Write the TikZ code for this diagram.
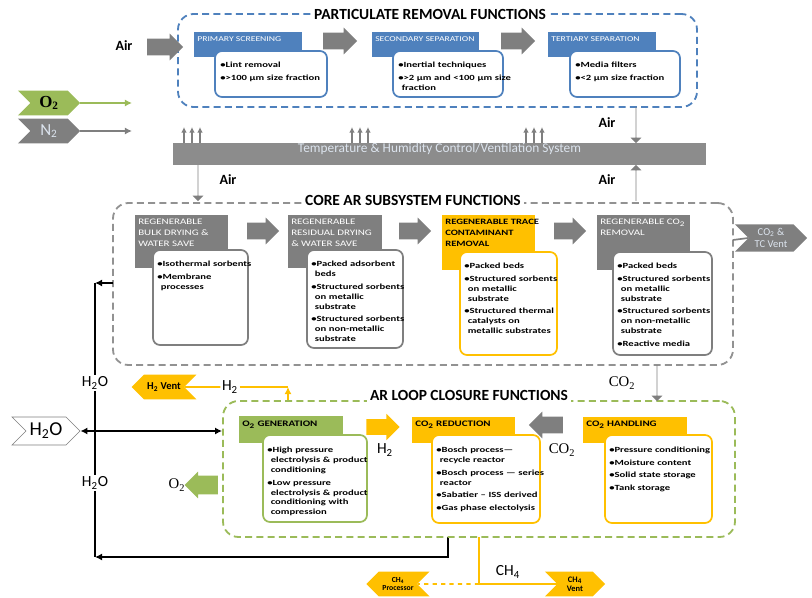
\documentclass[tikz,border=0pt]{standalone}
\usepackage{fontspec}
\setmainfont{Carlito}
\newfontfamily\serifl{Liberation Serif}
\newfontfamily\widefont[FakeStretch=1.3]{Carlito}
\newfontfamily\bulfont[FakeStretch=1.35]{Carlito}
\usetikzlibrary{shapes.arrows,shapes.symbols,fit,arrows.meta}
\definecolor{ablue}{HTML}{4F81BD}
\definecolor{agray}{HTML}{7F7F7F}
\definecolor{ayel}{HTML}{FFC000}
\definecolor{agrn}{HTML}{9BBB59}
\definecolor{alight}{HTML}{DCE4EE}
\newcommand{\itm}[1]{\par\hangindent=0.45em\hangafter=1\noindent\textbullet#1\par\vspace{2pt}}
\tikzset{
  fnframe/.style={draw, dash pattern=on 5pt off 3pt, line width=1.3pt, rounded corners=11pt, inner sep=0pt},
  frtitle/.style={fill=white, inner sep=2pt, font=\fontsize{11}{12}\selectfont\bfseries},
  hdr/.style={inner sep=0pt},
  htxt/.style={anchor=north west, inner sep=0pt, align=left, font=\widefont\fontsize{6}{7.6}\selectfont},
  bbox/.style={draw, fill=white, rounded corners=5pt, line width=1.2pt, inner sep=0pt},
  btxt/.style={anchor=north west, inner sep=0pt, align=left, text width=3.2cm, font=\bulfont\fontsize{5.6}{7.1}\selectfont\bfseries},
  barr/.style={single arrow, fill=agray, inner xsep=0pt, inner ysep=0.2cm, single arrow head extend=0.13cm, single arrow head indent=0pt, minimum height=0.85cm},
  gastag/.style={signal, inner sep=0pt, minimum height=0.62cm, align=center},
  lbl/.style={font=\serifl\fontsize{10.5}{12}\selectfont, inner sep=1pt},
  wlbl/.style={font=\fontsize{11}{12}\selectfont, inner sep=1pt},
  air/.style={font=\fontsize{10}{12}\selectfont\bfseries, inner sep=1pt},
  flowline/.style={line width=1.2pt, -{Latex[length=5pt,width=5pt]}},
}

\begin{document}
\begin{tikzpicture}[x=0.025cm, y=-0.025cm]
  \useasboundingbox (0,0) rectangle (812,598);

  % particulate removal
  \node[fnframe, draw=ablue, fit={(178,14) (697,107)}] (prf) {};
  \node[frtitle] (prft) at (430,14) {PARTICULATE REMOVAL FUNCTIONS};

  \node[hdr, fill=ablue, fit={(194,32) (302,57)}] (ps) {};
  \node[htxt, text=white, font=\widefont\fontsize{5.3}{7}\selectfont] (pst) at (197,36) {PRIMARY SCREENING};
  \node[bbox, draw=ablue, fit={(215,51) (327,97)}] (psb) {};
  \node[btxt] (psbt) at (220,57) {\itm{Lint removal}\itm{>100 µm size fraction}};

  \node[hdr, fill=ablue, fit={(372,32) (479,57)}] (ss) {};
  \node[htxt, text=white, font=\widefont\fontsize{5.3}{7}\selectfont] (sst) at (375,36) {SECONDARY SEPARATION};
  \node[bbox, draw=ablue, fit={(393,51) (503,97)}] (ssb) {};
  \node[btxt] (ssbt) at (398,57) {\itm{Inertial techniques}\itm{>2 µm and <100 µm size\newline fraction}};

  \node[hdr, fill=ablue, fit={(548,32) (656,57)}] (ts) {};
  \node[htxt, text=white, font=\widefont\fontsize{5.3}{7}\selectfont] (tst) at (551,36) {TERTIARY SEPARATION};
  \node[bbox, draw=ablue, fit={(570,51) (680,97)}] (tsb) {};
  \node[btxt] (tsbt) at (575,57) {\itm{Media filters}\itm{<2 µm size fraction}};

  \node[barr] (pa1) at (336,41) {};
  \node[barr] (pa2) at (514,41) {};

  \node[air] (airin) at (124,46) {Air};
  \node[barr, minimum height=0.9cm] (aira) at (161,47) {};

  % o2 / n2 in
  \node[gastag, fill=agrn, minimum width=1.55cm, signal to=east, signal from=west,
    font=\serifl\fontsize{12}{12}\selectfont\bfseries] (o2t) at (49,103) {O\textsubscript{2}};
  \node[gastag, fill=agray, minimum width=1.55cm, signal to=east, signal from=west,
    text=alight, font=\fontsize{12}{12}\selectfont] (n2t) at (49,131) {N\textsubscript{2}};
  \coordinate (o2e) at (132,103);
  \coordinate (n2e) at (132,131);
  \draw[agrn, line width=1.2pt, -{Latex[length=5pt,width=5pt]}] (o2t.east) -- (o2e);
  \draw[agray, line width=1.2pt, -{Latex[length=5pt,width=5pt]}] (n2t.east) -- (n2e);

  % thc bar
  \node[fill=agray!90, inner sep=0pt, fit={(173,143) (706,165)}, text=alight,
    font=\fontsize{9.5}{10}\selectfont] (bar) {Temperature \& Humidity Control/Ventilation System};
  \foreach \x in {184,192,200,352,360,368,526,534,542}
    \draw[agray, line width=1.1pt, -{Latex[length=4pt,width=4pt]}] (\x,143) -- (\x,127);

  \node[barr, shape border rotate=270, minimum height=0.9cm] (aird1) at (636,125) {};
  \node[air] (air1) at (607,123) {Air};
  \node[barr, shape border rotate=90, minimum height=0.9cm] (airu) at (636,183) {};
  \node[air] (air2) at (607,180) {Air};
  \node[barr, shape border rotate=270, minimum height=0.9cm] (aird2) at (198,183) {};
  \node[air] (air3) at (228,180) {Air};

  % core ar
  \node[fnframe, draw=agray!85, fit={(113,203) (733,365)}] (core) {};
  \node[frtitle] (coret) at (413,200) {CORE AR SUBSYSTEM FUNCTIONS};

  \node[hdr, fill=agray, fit={(135,215) (228,268)}] (c1) {};
  \node[htxt, text=white] (c1t) at (138,219) {REGENERABLE\\BULK DRYING \&\\WATER SAVE};
  \node[bbox, draw=agray, fit={(153,250) (248,345)}] (c1b) {};
  \node[btxt] (c1bt) at (157,256) {\itm{Isothermal sorbents}\itm{Membrane\newline processes}};

  \node[hdr, fill=agray, fit={(288,215) (382,268)}] (c2) {};
  \node[htxt, text=white] (c2t) at (291,219) {REGENERABLE\\RESIDUAL DRYING\\\& WATER SAVE};
  \node[bbox, draw=agray, fit={(307,250) (403,348)}] (c2b) {};
  \node[btxt] (c2bt) at (311,256) {\itm{Packed adsorbent\newline beds}\itm{Structured sorbents\newline on metallic\newline substrate}\itm{Structured sorbents\newline on non-metallic\newline substrate}};

  \node[hdr, fill=ayel, fit={(442,215) (535,270)}] (c3) {};
  \node[htxt, font=\widefont\fontsize{5.8}{7.6}\selectfont\bfseries] (c3t) at (445,219) {REGENERABLE TRACE\\CONTAMINANT\\REMOVAL};
  \node[bbox, draw=ayel, fit={(460,252) (557,355)}] (c3b) {};
  \node[btxt] (c3bt) at (464,258) {\itm{Packed beds}\itm{Structured sorbents\newline on metallic\newline substrate}\itm{Structured thermal\newline catalysts on\newline metallic substrates}};

  \node[hdr, fill=agray, fit={(597,215) (690,270)}] (c4) {};
  \node[htxt, text=white] (c4t) at (600,219) {REGENERABLE CO\textsubscript{2}\\REMOVAL};
  \node[bbox, draw=agray, fit={(613,252) (712,355)}] (c4b) {};
  \node[btxt] (c4bt) at (617,258) {\itm{Packed beds}\itm{Structured sorbents\newline on metallic\newline substrate}\itm{Structured sorbents\newline on non-metallic\newline substrate}\itm{Reactive media}};

  \node[barr, minimum height=0.8cm] (ca1) at (259,231) {};
  \node[barr, minimum height=0.8cm] (ca2) at (411,231) {};
  \node[barr, minimum height=0.8cm] (ca3) at (566,231) {};

  \node[gastag, fill=agray, minimum width=1.8cm, minimum height=0.68cm, signal to=east, signal from=west,
    text=alight, font=\fontsize{7.5}{8.5}\selectfont] (co2v) at (771,238) {CO\textsubscript{2} \&\\TC Vent};
  \coordinate (corev) at (733,240);
  \draw[agray, line width=1.2pt] (corev) -- (co2v.west);

  % water loop
  \coordinate (wout) at (113,283);
  \coordinate (wc1) at (95,283);
  \node[wlbl] (w1) at (95,383) {H\textsubscript{2}O};
  \node[wlbl] (w2) at (95,483) {H\textsubscript{2}O};
  \coordinate (wc2) at (95,557);
  \coordinate (wc3) at (448,557);
  \coordinate (wc4) at (448,537);
  \draw[flowline] (wout) -- (wc1);
  \draw[line width=1.2pt] (wc1) -- (w1) (w1) -- (w2) (w2) -- (wc2);
  \draw[flowline] (wc4) -- (wc3) -- (wc2);

  \node[gastag, fill=white, draw=agray, minimum width=1.7cm, minimum height=0.7cm, signal to=east, signal from=west,
    font=\fontsize{14}{14}\selectfont] (h2ot) at (46,431) {H\textsubscript{2}O};

  % h2 vent
  \node[gastag, fill=ayel, minimum width=1.62cm, signal to=west, signal from=east,
    font=\fontsize{7.5}{8}\selectfont\bfseries] (h2v) at (164,387) {H\textsubscript{2} Vent};
  \node[wlbl] (h2l) at (230,387) {H\textsubscript{2}};
  \coordinate (h2c) at (288,387);
  \coordinate (h2b) at (288,401);
  \draw[ayel, line width=1.2pt] (h2v) -- (h2l);
  \draw[ayel, line width=1.2pt] (h2l) -- (h2c);
  \draw[ayel, line width=1.2pt, -{Latex[length=5pt,width=5pt]}] (h2b) -- (h2c);

  % loop closure
  \node[fnframe, draw=agrn, fit={(223,401) (735,537)}] (loop) {};
  \node[frtitle] (loopt) at (469,395) {AR LOOP CLOSURE FUNCTIONS};
  \draw[line width=1.2pt, {Latex[length=5pt,width=5pt]}-{Latex[length=5pt,width=5pt]}] (h2ot.east) -- (h2ot -| loop.west);

  \node[hdr, fill=agrn, fit={(239,416) (343,443)}] (l1) {};
  \node[htxt, font=\widefont\fontsize{6}{7}\selectfont\bfseries] (l1t) at (242,421) {O\textsubscript{2} GENERATION};
  \node[bbox, draw=agrn, fit={(263,435) (367,522)}] (l1b) {};
  \node[btxt] (l1bt) at (267,442) {\itm{High pressure\newline electrolysis \& product\newline conditioning}\itm{Low pressure\newline electrolysis \& product\newline conditioning with\newline compression}};

  \node[hdr, fill=ayel, fit={(412,417) (515,443)}] (l2) {};
  \node[htxt, font=\widefont\fontsize{6}{7}\selectfont\bfseries] (l2t) at (415,421) {CO\textsubscript{2} REDUCTION};
  \node[bbox, draw=ayel, fit={(432,435) (540,523)}] (l2b) {};
  \node[btxt] (l2bt) at (436,442) {\itm{Bosch process—\newline recycle reactor}\itm{Bosch process — series\newline reactor}\itm{Sabatier – ISS derived}\itm{Gas phase electolysis}};

  \node[hdr, fill=ayel, fit={(583,417) (687,443)}] (l3) {};
  \node[htxt, font=\widefont\fontsize{6}{7}\selectfont\bfseries] (l3t) at (586,421) {CO\textsubscript{2} HANDLING};
  \node[bbox, draw=ayel, fit={(605,435) (712,523)}] (l3b) {};
  \node[btxt] (l3bt) at (609,442) {\itm{Pressure conditioning}\itm{Moisture content}\itm{Solid state storage}\itm{Tank storage}};

  \node[barr, fill=ayel, minimum height=0.83cm, inner ysep=0.19cm] (la1) at (379,427) {};
  \node[wlbl] (h2l2) at (385,450) {H\textsubscript{2}};
  \node[barr, shape border rotate=180, minimum height=0.85cm] (la2) at (550,425) {};
  \node[lbl] (co2l2) at (562,450) {CO\textsubscript{2}};
  \node[barr, shape border rotate=270, minimum height=0.9cm] (co2d) at (657,383) {};
  \node[lbl] (co2l1) at (622,383) {CO\textsubscript{2}};
  \node[barr, fill=agrn, shape border rotate=180, minimum height=0.83cm, inner ysep=0.23cm, single arrow head extend=0.1cm] (o2a) at (206,485) {};
  \node[lbl] (o2l) at (177,485) {O\textsubscript{2}};

  % ch4
  \coordinate (m1) at (479,537);
  \coordinate (m2) at (479,584);
  \node[gastag, fill=ayel, minimum width=1.58cm, signal to=west, signal from=east,
    font=\fontsize{5.5}{6}\selectfont\bfseries] (ch4p) at (398,584) {CH\textsubscript{4}\\Processor};
  \node[gastag, fill=ayel, minimum width=1.5cm, signal to=east, signal from=west,
    font=\fontsize{6}{6.5}\selectfont\bfseries] (ch4v) at (575,584) {CH\textsubscript{4}\\Vent};
  \node[wlbl] (ch4l) at (508,572) {CH\textsubscript{4}};
  \draw[ayel, line width=1.2pt] (m1) -- (m2) -- (ch4v);
  \draw[ayel, line width=1.2pt, dashed] (m2) -- (ch4p);
\end{tikzpicture}
\end{document}
